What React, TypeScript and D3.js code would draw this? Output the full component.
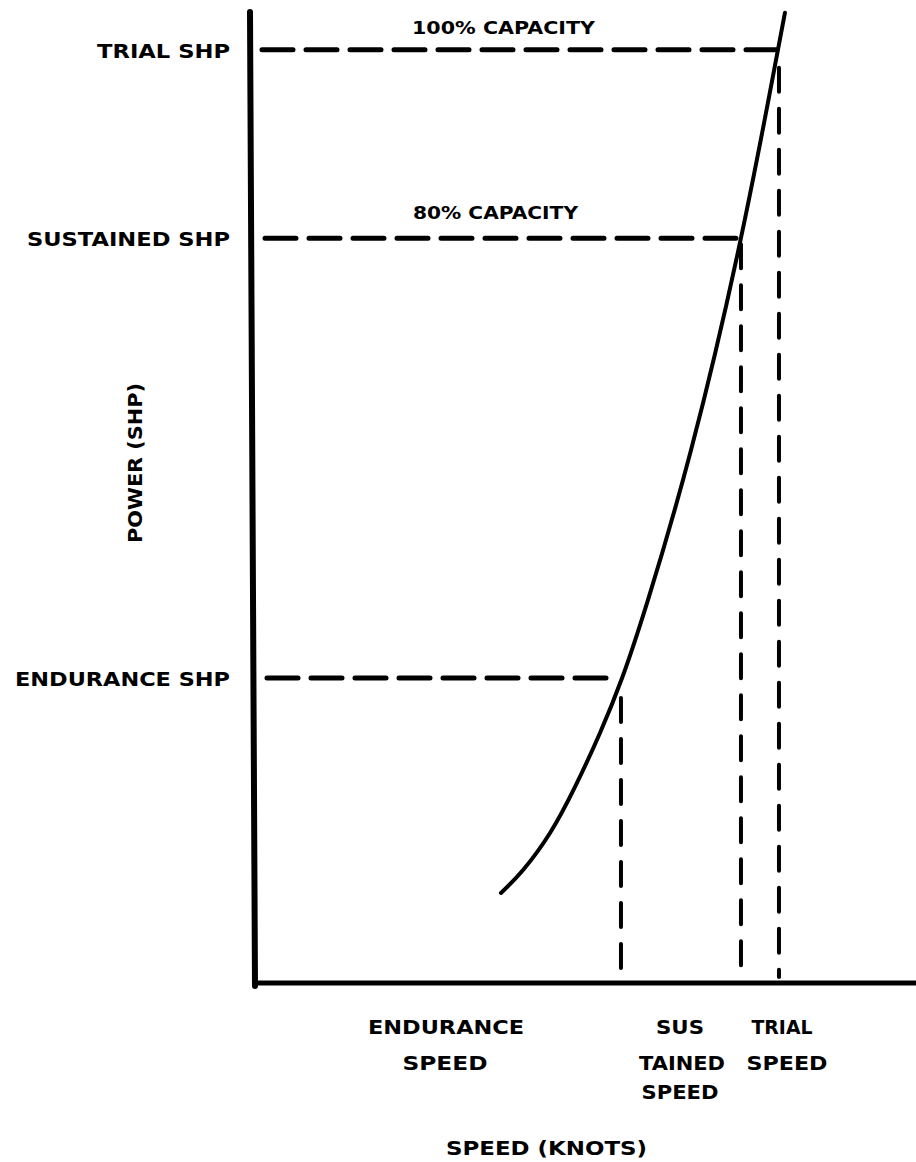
import { line, curveNatural, scaleLinear } from "d3";

// schematic speed-power curve (speed in knots, power in % of max)
const curveSpeed = [11.22, 12.22, 13.44, 14.57, 15.7, 16.7, 17.87, 19.82, 22.08, 23.76, 24.07];
const curvePower = [9.27, 11.64, 15.45, 20.19, 25.75, 31.41, 39.44, 54.89, 76.73, 96.19, 99.9];

// operating points: endurance, sustained, trial
const markSpeed = [16.65, 22.08, 23.8];
const markPower = [31.4, 76.7, 96.1];

const powerLabels = ["ENDURANCE SHP", "SUSTAINED SHP", "TRIAL SHP"];
const capacityLabels = ["80% CAPACITY", "100% CAPACITY"];
const speedLabels = [
  ["ENDURANCE", "SPEED"],
  ["SUS", "TAINED", "SPEED"],
  ["TRIAL", "SPEED"],
];

const FONT = "'DejaVu Sans', 'Liberation Sans', Arial, sans-serif";

export default function App() {
  const width = 916;
  const height = 1162;
  const plot = { left: 253, right: 916, top: 12, bottom: 983 };

  const x = scaleLinear().domain([0, 30]).range([plot.left, plot.right]);
  const y = scaleLinear().domain([0, 100]).range([plot.bottom, plot.top]);

  const points = curveSpeed.map((s, i) => [s, curvePower[i]] as [number, number]);
  const path = line<[number, number]>()
    .x((d) => x(d[0]))
    .y((d) => y(d[1]))
    .curve(curveNatural)(points);

  // label layout (pixels)
  const powerLabelBox = [
    { x0: 15, len: 215 },
    { x0: 27, len: 203 },
    { x0: 97, len: 133 },
  ];
  const capacityBox = [
    { x0: 413, len: 165, dy: -25 },
    { x0: 412, len: 183, dy: -22 },
  ];
  const speedLabelBox = [
    { cx: [446, 445], len: [156, 85] },
    { cx: [680, 682, 680], len: [48, 86, 77] },
    { cx: [782, 787], len: [61, 81] },
  ];
  const vStart = [20, 6, 18];
  const hStart = [267, 265, 262];
  const lineY = [1033.5, 1069.5, 1098.5];

  return (
    <svg
      width={width}
      height={height}
      viewBox={`0 0 ${width} ${height}`}
      style={{ position: "absolute", left: 0, top: 0, background: "#fff" }}
    >
      <rect x={0} y={0} width={width} height={height} fill="#fff" />

      {/* axes */}
      <line x1={plot.left - 3} x2={plot.left + 2} y1={y(100)} y2={y(0) + 3} stroke="#000" strokeWidth={6} strokeLinecap="round" />
      <line x1={plot.left} x2={plot.right} y1={y(0)} y2={y(0)} stroke="#000" strokeWidth={5} />

      {/* reference dashed lines */}
      {markSpeed.map((s, i) => (
        <g key={`mark-${i}`}>
          <line
            x1={hStart[i]}
            x2={x(s) - 2}
            y1={y(markPower[i])}
            y2={y(markPower[i])}
            stroke="#000"
            strokeWidth={5}
            strokeDasharray="31 13"
            strokeLinecap="round"
          />
          <line
            x1={x(s)}
            x2={x(s)}
            y1={y(markPower[i]) + vStart[i]}
            y2={y(0) - 6}
            stroke="#000"
            strokeWidth={4}
            strokeDasharray="24 17"
            strokeLinecap="round"
          />
        </g>
      ))}

      {/* speed-power curve */}
      <path d={path ?? ""} fill="none" stroke="#000" strokeWidth={4} strokeLinecap="round" />

      <g fontFamily={FONT} fontWeight="bold" fill="#000">
        {powerLabels.map((label, i) => (
          <text
            key={label}
            x={powerLabelBox[i].x0}
            y={y(markPower[i]) + 8}
            fontSize={20}
            textLength={powerLabelBox[i].len}
            lengthAdjust="spacingAndGlyphs"
          >
            {label}
          </text>
        ))}

        {capacityLabels.map((label, i) => (
          <text
            key={label}
            x={capacityBox[i].x0}
            y={y(markPower[i + 1]) + capacityBox[i].dy + 6}
            fontSize={18}
            textLength={capacityBox[i].len}
            lengthAdjust="spacingAndGlyphs"
          >
            {label}
          </text>
        ))}

        {speedLabels.map((lines, i) =>
          lines.map((word, j) => (
            <text
              key={`${i}-${j}`}
              x={speedLabelBox[i].cx[j] - speedLabelBox[i].len[j] / 2}
              y={lineY[j]}
              fontSize={20}
              textLength={speedLabelBox[i].len[j]}
              lengthAdjust="spacingAndGlyphs"
            >
              {word}
            </text>
          ))
        )}

        <text
          x={546 - 100}
          y={1154.5}
          fontSize={20}
          textLength={201}
          lengthAdjust="spacingAndGlyphs"
        >
          SPEED (KNOTS)
        </text>

        <text
          transform="translate(142, 543) rotate(-90)"
          x={0}
          y={0}
          fontSize={20}
          textLength={160}
          lengthAdjust="spacingAndGlyphs"
        >
          POWER (SHP)
        </text>
      </g>
    </svg>
  );
}
